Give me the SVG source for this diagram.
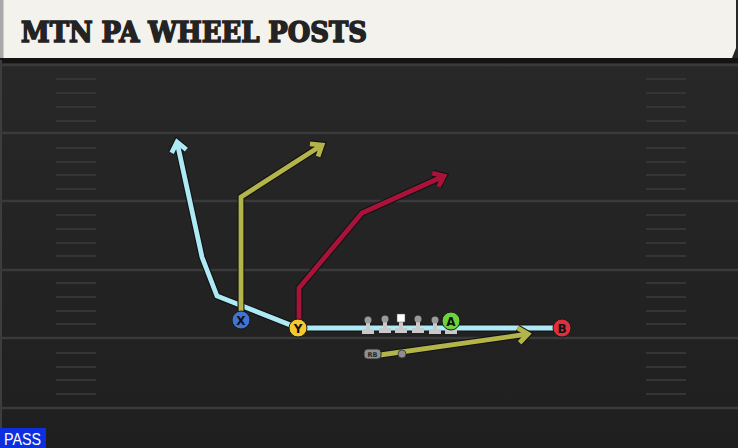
<svg xmlns="http://www.w3.org/2000/svg" width="738" height="448" viewBox="0 0 738 448">
<defs>
<linearGradient id="field" x1="0" y1="0" x2="0" y2="1">
<stop offset="0" stop-color="#292929"/>
<stop offset="1" stop-color="#1f1f1f"/>
</linearGradient>
<style>
.yl{stroke:#3a3a3a;stroke-width:2.5}
.hm{stroke:#353535;stroke-width:2}
.out{fill:none;stroke:#121212;stroke-width:7;stroke-linejoin:miter}
.rt{fill:none;stroke-width:4.8;stroke-linejoin:miter}
.pl{stroke:#1a1a1a;stroke-width:1}
.lt{font-family:"DejaVu Sans","Liberation Sans",sans-serif;font-weight:bold;font-size:12px;fill:#111;text-anchor:middle}
.head{fill:#9a9a9a}
.body{fill:#c9c9c9}
</style>
<marker id="mk-d" markerUnits="userSpaceOnUse" markerWidth="30" markerHeight="30" refX="0" refY="0" orient="auto" overflow="visible">
<path d="M-9.5,-7.5 L0,0 L-9.5,7.5" fill="none" stroke="#121212" stroke-width="7"/>
</marker>
<marker id="mk-c" markerUnits="userSpaceOnUse" markerWidth="30" markerHeight="30" refX="0" refY="0" orient="auto" overflow="visible">
<path d="M-9.5,-7.5 L0,0 L-9.5,7.5" fill="none" stroke="#aeeaf6" stroke-width="4.8"/>
</marker>
<marker id="mk-o" markerUnits="userSpaceOnUse" markerWidth="30" markerHeight="30" refX="0" refY="0" orient="auto" overflow="visible">
<path d="M-9.5,-7.5 L0,0 L-9.5,7.5" fill="none" stroke="#b3b54a" stroke-width="4.8"/>
</marker>
<marker id="mk-r" markerUnits="userSpaceOnUse" markerWidth="30" markerHeight="30" refX="0" refY="0" orient="auto" overflow="visible">
<path d="M-9.5,-7.5 L0,0 L-9.5,7.5" fill="none" stroke="#a8133a" stroke-width="4.8"/>
</marker>
<g id="ol">
<rect class="body" x="-2" y="0" width="4" height="10"/>
<rect class="body" x="-6" y="9" width="12" height="5"/>
<circle class="head" cx="0" cy="0" r="3.5"/>
</g>
</defs>

<!-- field -->
<rect x="0" y="0" width="738" height="448" fill="url(#field)"/>
<rect x="0" y="58" width="738" height="5" fill="#141414"/>
<rect x="0" y="60" width="2" height="388" fill="#3d3d3d"/>
<g id="yardlines">
<line class="yl" x1="0" y1="65" x2="738" y2="65"/>
<line class="yl" x1="0" y1="133" x2="738" y2="133"/>
<line class="yl" x1="0" y1="201" x2="738" y2="201"/>
<line class="yl" x1="0" y1="270" x2="738" y2="270"/>
<line class="yl" x1="0" y1="338" x2="738" y2="338"/>
<line class="yl" x1="0" y1="408" x2="738" y2="408"/>
</g>
<g id="hashes">
<path class="hm" d="M56,79H96M56,93H96M56,107H96M56,121H96M56,148H96M56,162H96M56,175H96M56,189H96M56,215H96M56,229H96M56,243H96M56,256H96M56,283H96M56,297H96M56,311H96M56,324H96M56,353H96M56,367H96M56,380H96M56,394H96"/>
<path class="hm" d="M646,79H686M646,93H686M646,107H686M646,121H686M646,148H686M646,162H686M646,175H686M646,189H686M646,215H686M646,229H686M646,243H686M646,256H686M646,283H686M646,297H686M646,311H686M646,324H686M646,353H686M646,367H686M646,380H686M646,394H686"/>
</g>

<!-- header -->
<g id="header">
<path d="M0,0 H736 V48 L732,58 H0 Z" fill="#f4f2ec"/>
<rect x="0" y="0" width="3.5" height="58" fill="#a9a9a9"/>
<text x="21" y="42" font-family="'DejaVu Serif','Liberation Serif',serif" font-weight="bold" font-size="27" fill="#232323" stroke="#232323" stroke-width="1.6" stroke-linejoin="miter" textLength="346" lengthAdjust="spacingAndGlyphs">MTN PA WHEEL POSTS</text>
</g>

<!-- connectors -->
<g id="connectors">
<polyline class="out" points="562,328 298,328 217,296 202,257 177,142" marker-end="url(#mk-d)"/>
<polyline class="rt" stroke="#aeeaf6" points="562,328 298,328 217,296 202,257 177,142" marker-end="url(#mk-c)"/>
<polyline class="out" points="241,319 241,197 322,145" marker-end="url(#mk-d)"/>
<polyline class="rt" stroke="#b3b54a" points="241,319 241,197 322,145" marker-end="url(#mk-o)"/>
<polyline class="out" points="299,328 299,288 362,213 444,176" marker-end="url(#mk-d)"/>
<polyline class="rt" stroke="#a8133a" points="299,328 299,288 362,213 444,176" marker-end="url(#mk-r)"/>
<polyline class="out" points="380,355 528,334" marker-end="url(#mk-d)"/>
<polyline class="rt" stroke="#b3b54a" points="380,355 528,334" marker-end="url(#mk-o)"/>
</g>

<!-- line -->
<g id="lt"><use href="#ol" x="368" y="320"/></g>
<g id="lg"><use href="#ol" x="385" y="319"/></g>
<g id="c">
<rect class="body" x="399" y="320" width="4" height="9"/>
<rect class="body" x="395" y="328" width="12" height="5"/>
<rect x="397" y="314" width="8" height="8" fill="#ffffff" stroke="#555" stroke-width="0.5"/>
</g>
<g id="rg"><use href="#ol" x="418" y="319"/></g>
<g id="rt"><use href="#ol" x="435" y="320"/></g>

<g id="qb"><circle cx="402" cy="354" r="4" fill="#8e8e8e" stroke="#333" stroke-width="0.8"/></g>
<g id="rb">
<rect x="364" y="349" width="17" height="10" rx="3.5" fill="#8f8f8f" stroke="#2a2a2a" stroke-width="1"/>
<text x="372.5" y="357" font-family="'DejaVu Sans','Liberation Sans',sans-serif" font-size="6.5" font-weight="bold" fill="#2a2a2a" text-anchor="middle">RB</text>
</g>

<g id="x"><circle class="pl" cx="241" cy="320" r="9" fill="#3f73d6"/><text class="lt" x="241" y="324.5">X</text></g>
<g id="y"><circle class="pl" cx="298" cy="328" r="9" fill="#f5c92c"/><text class="lt" x="298" y="332.5">Y</text></g>
<g id="a">
<rect class="body" x="445" y="329" width="12" height="5"/>
<circle class="pl" cx="451" cy="321" r="9" fill="#6ed23a"/><text class="lt" x="451" y="325.5">A</text>
</g>
<g id="b"><circle class="pl" cx="562" cy="328" r="9" fill="#df2f3b"/><text class="lt" x="562" y="332.5">B</text></g>

<g id="pass">
<rect x="0" y="428" width="46" height="20" fill="#0c2fe0"/>
<text x="4" y="445" font-family="'Liberation Sans',Arial,sans-serif" font-size="16" fill="#ffffff" textLength="37" lengthAdjust="spacingAndGlyphs">PASS</text>
</g>
</svg>
